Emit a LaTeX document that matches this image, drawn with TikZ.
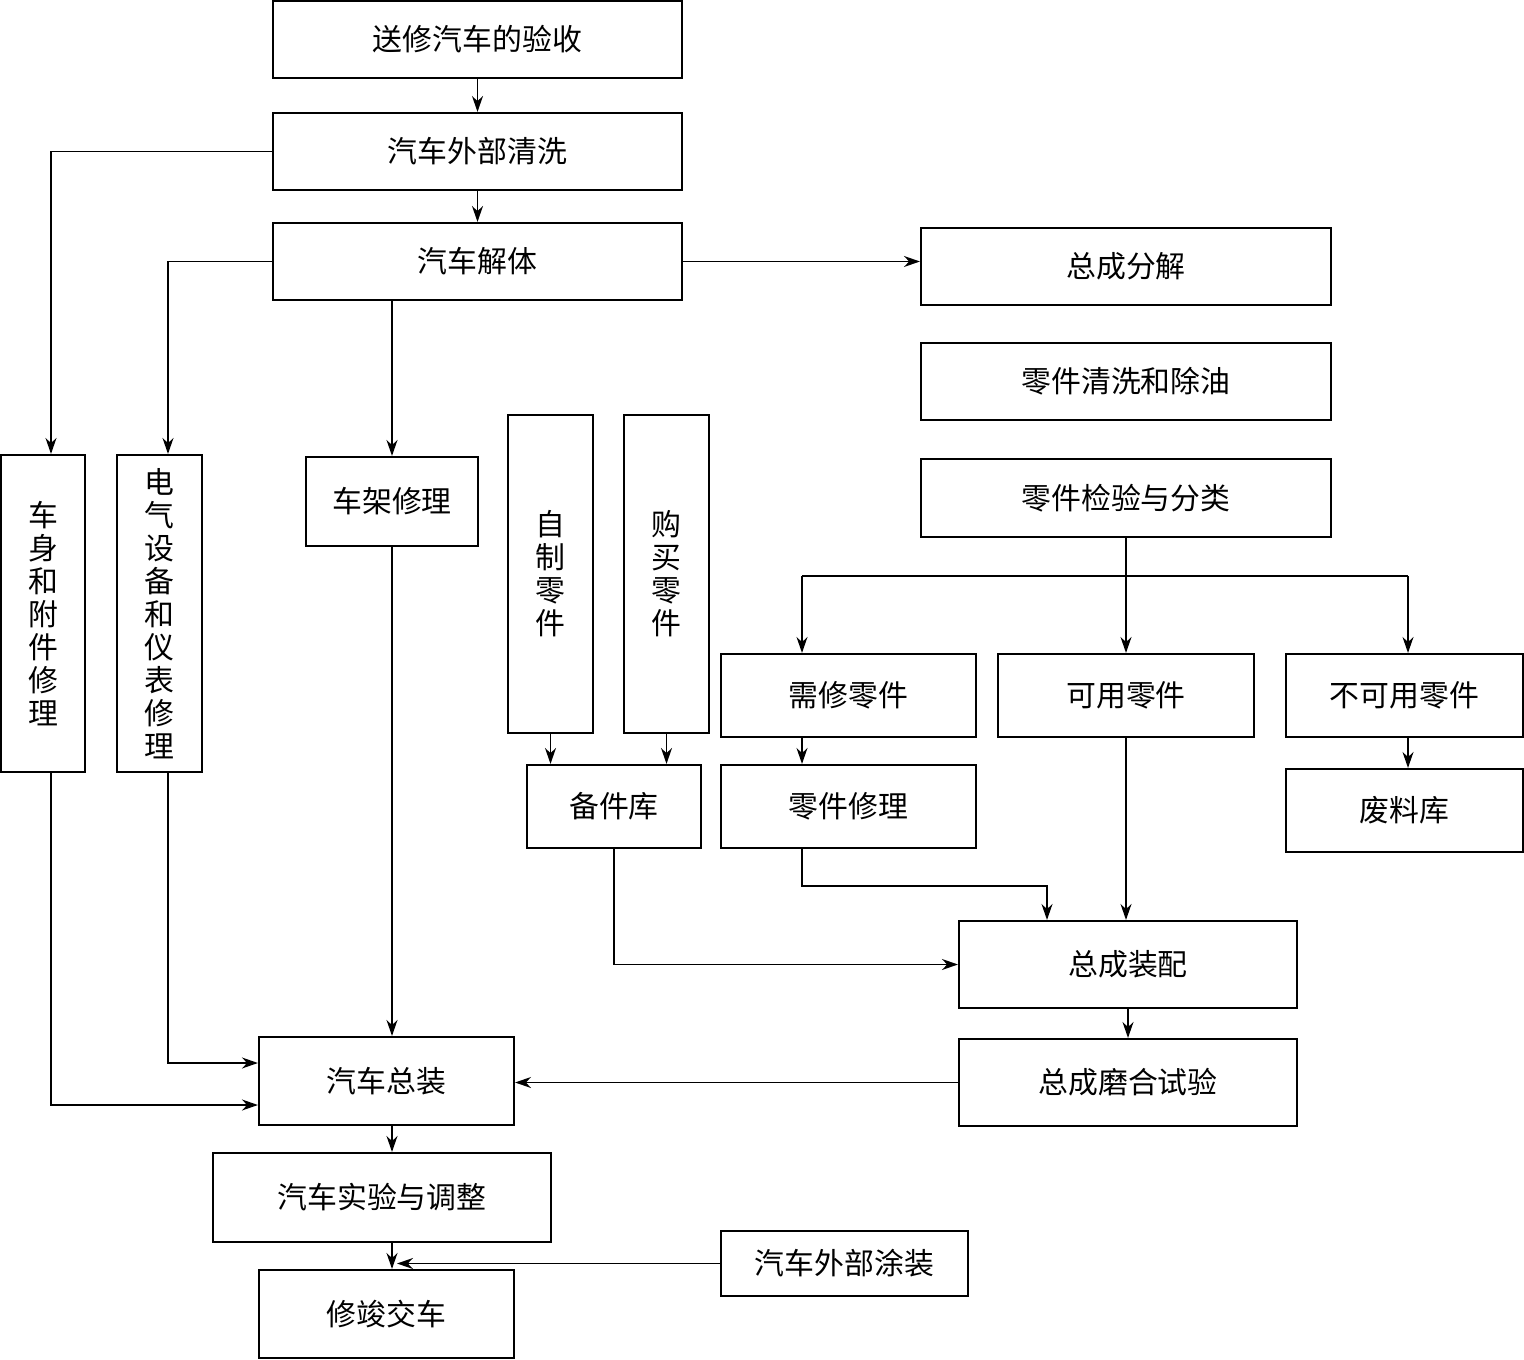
\documentclass[tikz,border=0pt]{standalone}
\usepackage{fontspec}
\newfontfamily\cjk{Noto Sans CJK SC}
\usetikzlibrary{arrows.meta}

\begin{document}
\begin{tikzpicture}[every node/.style={font=\cjk\fontsize{8.5}{9.4}\selectfont},
 b/.style={draw,line width=0.6pt,inner sep=0pt,align=center},
 arr/.style={-{Stealth[length=1.6mm,width=1.1mm]},line width=0.5pt}]
\useasboundingbox (0,0) rectangle (15.24,-13.6);
\node[b,minimum width=4.09cm,minimum height=0.77cm] (acc) at (4.775,-0.395) {送修汽车的验收};
\node[b,minimum width=4.09cm,minimum height=0.77cm] (wash) at (4.775,-1.515) {汽车外部清洗};
\node[b,minimum width=4.09cm,minimum height=0.77cm] (disas) at (4.775,-2.615) {汽车解体};
\node[b,minimum width=4.10cm,minimum height=0.77cm] (asmdis) at (11.26,-2.665) {总成分解};
\node[b,minimum width=4.10cm,minimum height=0.77cm] (degrease) at (11.26,-3.815) {零件清洗和除油};
\node[b,minimum width=4.10cm,minimum height=0.78cm] (inspect) at (11.26,-4.98) {零件检验与分类};
\node[b,minimum width=0.84cm,minimum height=3.17cm] (body) at (0.43,-6.135) {车\\身\\和\\附\\件\\修\\理};
\node[b,minimum width=0.85cm,minimum height=3.17cm] (elec) at (1.595,-6.135) {电\\气\\设\\备\\和\\仪\\表\\修\\理};
\node[b,minimum width=1.72cm,minimum height=0.89cm] (frame) at (3.92,-5.015) {车架修理};
\node[b,minimum width=0.85cm,minimum height=3.18cm] (self) at (5.505,-5.74) {自\\制\\零\\件};
\node[b,minimum width=0.85cm,minimum height=3.18cm] (buy) at (6.665,-5.74) {购\\买\\零\\件};
\node[b,minimum width=2.55cm,minimum height=0.83cm] (needrep) at (8.485,-6.955) {需修零件};
\node[b,minimum width=2.56cm,minimum height=0.83cm] (usable) at (11.26,-6.955) {可用零件};
\node[b,minimum width=2.37cm,minimum height=0.83cm] (scrap) at (14.045,-6.955) {不可用零件};
\node[b,minimum width=1.74cm,minimum height=0.83cm] (store) at (6.14,-8.065) {备件库};
\node[b,minimum width=2.55cm,minimum height=0.83cm] (partrep) at (8.485,-8.065) {零件修理};
\node[b,minimum width=2.37cm,minimum height=0.83cm] (waste) at (14.045,-8.105) {废料库};
\node[b,minimum width=3.38cm,minimum height=0.87cm] (asm) at (11.28,-9.645) {总成装配};
\node[b,minimum width=2.55cm,minimum height=0.88cm] (final) at (3.865,-10.81) {汽车总装};
\node[b,minimum width=3.38cm,minimum height=0.87cm] (runin) at (11.28,-10.825) {总成磨合试验};
\node[b,minimum width=3.38cm,minimum height=0.89cm] (test) at (3.82,-11.975) {汽车实验与调整};
\node[b,minimum width=2.47cm,minimum height=0.65cm] (paint) at (8.445,-12.635) {汽车外部涂装};
\node[b,minimum width=2.55cm,minimum height=0.88cm] (deliver) at (3.865,-13.14) {修竣交车};
\coordinate (lc) at (8.02,-5.76);
\coordinate (rc) at (14.08,-5.76);
\coordinate (jn) at (10.47,-8.86);
\path (frame.south |- paint.west) ++(0.05,0) coordinate (mg);
\draw[arr](acc)--(wash);\draw[arr](wash)--(disas);
\draw[arr](wash.west)-|([xshift=0.8mm]body.north);
\draw[arr](disas.west)-|([xshift=0.85mm]elec.north);
\draw[arr](frame.north |- disas.south)--(frame.north);
\draw[arr](disas.east)--(disas.east -| asmdis.west);
\draw[line width=0.5pt](lc)--(rc);
\draw[arr](inspect)--(usable);
\draw[arr](lc)--(lc |- needrep.north);\draw[arr](rc)--(rc |- scrap.north);
\draw[arr](self.south)--(self.south |- store.north);
\draw[arr](buy.south)--(buy.south |- store.north);
\draw[arr](lc |- needrep.south)--(lc |- partrep.north);
\draw[arr](rc |- scrap.south)--(rc |- waste.north);
\draw[arr](lc |- partrep.south)|-(jn)--(jn |- asm.north);
\draw[arr](usable.south)--(usable.south |- asm.north);
\draw[arr](store.south)|-(asm.west);
\draw[arr](asm)--(runin);
\draw[arr](runin.west)--(runin.west -| final.east);
\draw[arr](frame.south)--(frame.south |- final.north);
\draw[arr]([xshift=0.85mm]elec.south)|-([yshift=1.8mm]final.west);
\draw[arr]([xshift=0.8mm]body.south)|-([yshift=-2.4mm]final.west);
\draw[arr](frame.south |- final.south)--(frame.south |- test.north);
\draw[arr](frame.south |- test.south)--(frame.south |- deliver.north);
\draw[arr](paint.west)--(mg);
\end{tikzpicture}
\end{document}
